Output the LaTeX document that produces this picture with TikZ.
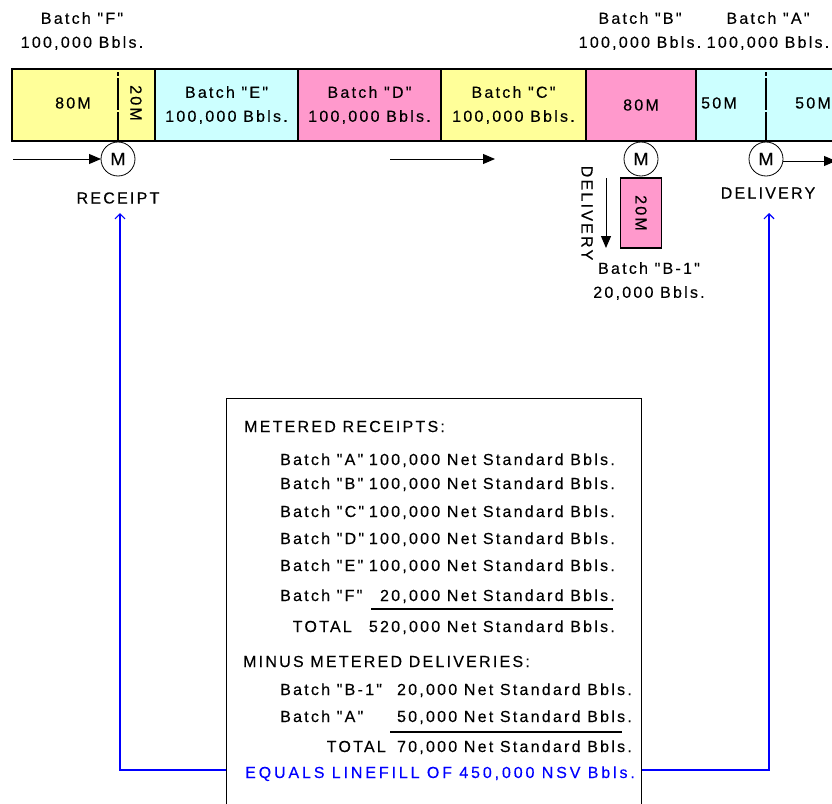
\documentclass[tikz,border=0pt]{standalone}
\usepackage{fontspec}
\setmainfont{Liberation Sans}[Ligatures=TeXOff, LetterSpace=14, FakeBold=0.3]
\usetikzlibrary{arrows.meta, positioning, calc}
\definecolor{pipeyellow}{HTML}{FFFF99}
\definecolor{pipecyan}{HTML}{CCFFFF}
\definecolor{pipepink}{HTML}{FF99CC}
\definecolor{linkblue}{HTML}{0000FF}
\begin{document}
\begin{tikzpicture}[x=1pt, y=1pt,
    font=\fontsize{16}{24}\selectfont,
    seg/.style={draw, line width=1.2pt, minimum height=72, inner sep=0pt, outer sep=0pt, anchor=north west, align=center},
    meter/.style={draw, circle, line width=0.8pt, minimum size=34, inner sep=0pt, outer sep=0pt, fill=white,
      font=\fontsize{18}{18}\selectfont\addfontfeature{LetterSpace=0}},
    lbl/.style={align=center, inner sep=0pt},
    row/.style={inner sep=0pt, anchor=base west},
    val/.style={inner sep=0pt, anchor=base east},
    flow/.style={-{Triangle[length=12pt,width=10pt]}, line width=1pt},
    link/.style={-{Straight Barb[length=5pt,width=10pt]}, linkblue, line width=1.2pt},
    divider/.style={line width=2.4pt, dash pattern=on 4pt off 2pt on 32pt off 2pt on 40pt}]
  \useasboundingbox (0,0) rectangle (832,-803);
  % pipeline batches
  \node[seg, fill=pipeyellow, minimum width=143] (segF) at (12,-69) {};
  \node[seg, fill=pipecyan, minimum width=143] (segE) at (segF.north east) {Batch "E"\\100,000 Bbls.};
  \node[seg, fill=pipepink, minimum width=143] (segD) at (segE.north east) {Batch "D"\\100,000 Bbls.};
  \node[seg, fill=pipeyellow, minimum width=145] (segC) at (segD.north east) {Batch "C"\\100,000 Bbls.};
  \node[seg, fill=pipepink, minimum width=110] (segB) at (segC.north east) {80M};
  \node[seg, fill=pipecyan, minimum width=160] (segA) at (segB.north east) {};
  \node[lbl] (fBig) at (73,-103) {80M};
  \node[lbl, rotate=-90] (fSmall) at (136,-103) {20M};
  \node[lbl] (aLeft) at (719,-103) {50M};
  \node[lbl] (aRight) at (813,-103) {50M};
  % batch labels above the pipe
  \node[lbl] (topF) at (82,-31) {Batch "F"\\100,000 Bbls.};
  \node[lbl] (topB) at (640,-31) {Batch "B"\\100,000 Bbls.};
  \node[lbl] (topA) at (768,-31) {Batch "A"\\100,000 Bbls.};
  % meters
  \node[meter] (mRcpt) at (118,-159) {M};
  \node[meter] (mSide) at (641,-159) {M};
  \node[meter] (mDlv) at (766,-159) {M};
  \draw[divider] ([yshift=-3]segF.north -| mRcpt) -- (mRcpt.north);
  \draw[divider] ([yshift=-3]segA.north -| mDlv) -- (mDlv.north);
  \node[lbl] (rcptLbl) at (118,-198) {RECEIPT};
  \node[lbl] (dlvLbl) at (768,-193) {DELIVERY};
  % flow arrows
  \coordinate (inRcpt) at (13,-159);
  \coordinate (midA) at (390,-159);
  \coordinate (midB) at (495,-159);
  \coordinate (outDlv) at (836,-161);
  \draw[flow] (inRcpt) -- (mRcpt.west);
  \draw[flow] (midA) -- (midB);
  \draw[flow] (mDlv.east |- outDlv) -- (outDlv);
  % side stream delivery
  \node[seg, fill=pipepink, anchor=north, minimum width=41, minimum height=70] (segB1) at ([yshift=-2]mSide.south) {};
  \node[lbl, rotate=-90] at (segB1) {20M};
  \node[lbl, rotate=-90] (sideLbl) at (587,-213) {DELIVERY};
  \coordinate (sideTop) at (606,-178);
  \coordinate (sideEnd) at (606,-248);
  \draw[flow] (sideTop) -- (sideEnd);
  \node[lbl, below=14pt of segB1.south, xshift=8pt] (b1Lbl) {Batch "B-1"\\20,000 Bbls.};
  % summary box
  \node[draw, line width=1pt, anchor=north west, minimum width=415, minimum height=430, inner sep=0pt] (summary) at (226,-398) {};
  \node[row] (hdrRcpt) at (244,-432) {METERED RECEIPTS:};
  \node[row] (rA) at (280,-465) {Batch "A"};
  \node[val] (vA) at (615,-465) {100,000 Net Standard Bbls.};
  \node[row] (rB) at (280,-489) {Batch "B"};
  \node[val] (vB) at (615,-489) {100,000 Net Standard Bbls.};
  \node[row] (rC) at (280,-517) {Batch "C"};
  \node[val] (vC) at (615,-517) {100,000 Net Standard Bbls.};
  \node[row] (rD) at (280,-544) {Batch "D"};
  \node[val] (vD) at (615,-544) {100,000 Net Standard Bbls.};
  \node[row] (rE) at (280,-571) {Batch "E"};
  \node[val] (vE) at (615,-571) {100,000 Net Standard Bbls.};
  \node[row] (rF) at (280,-601) {Batch "F"};
  \node[val] (vF) at (615,-601) {20,000 Net Standard Bbls.};
  \draw[line width=1.2pt] (371,-609) -- (613,-609);
  \node[val] (tRcpt) at (352,-632) {TOTAL};
  \node[val] (vRcpt) at (615,-632) {520,000 Net Standard Bbls.};
  \node[row] (hdrDlv) at (243,-667) {MINUS METERED DELIVERIES:};
  \node[row] (dB1) at (280,-695) {Batch "B-1"};
  \node[val] (vB1) at (632,-695) {20,000 Net Standard Bbls.};
  \node[row] (dA) at (280,-722) {Batch "A"};
  \node[val] (vDA) at (632,-722) {50,000 Net Standard Bbls.};
  \draw[line width=1.2pt] (390,-732) -- (622,-732);
  \node[val] (tDlv) at (386,-752) {TOTAL};
  \node[val] (vDlv) at (632,-752) {70,000 Net Standard Bbls.};
  \node[row, text=linkblue, font=\fontsize{16}{24}\selectfont\addfontfeature{LetterSpace=18}] (eq) at (245,-778) {EQUALS LINEFILL OF 450,000 NSV Bbls.};
  % links back to the meters
  \coordinate (rcptTip) at (120,-213);
  \coordinate (dlvTip) at (769,-213);
  \draw[link] (summary.west |- 0,-770) -| (rcptTip);
  \draw[link] (summary.east |- 0,-770) -| (dlvTip);
\end{tikzpicture}
\end{document}
